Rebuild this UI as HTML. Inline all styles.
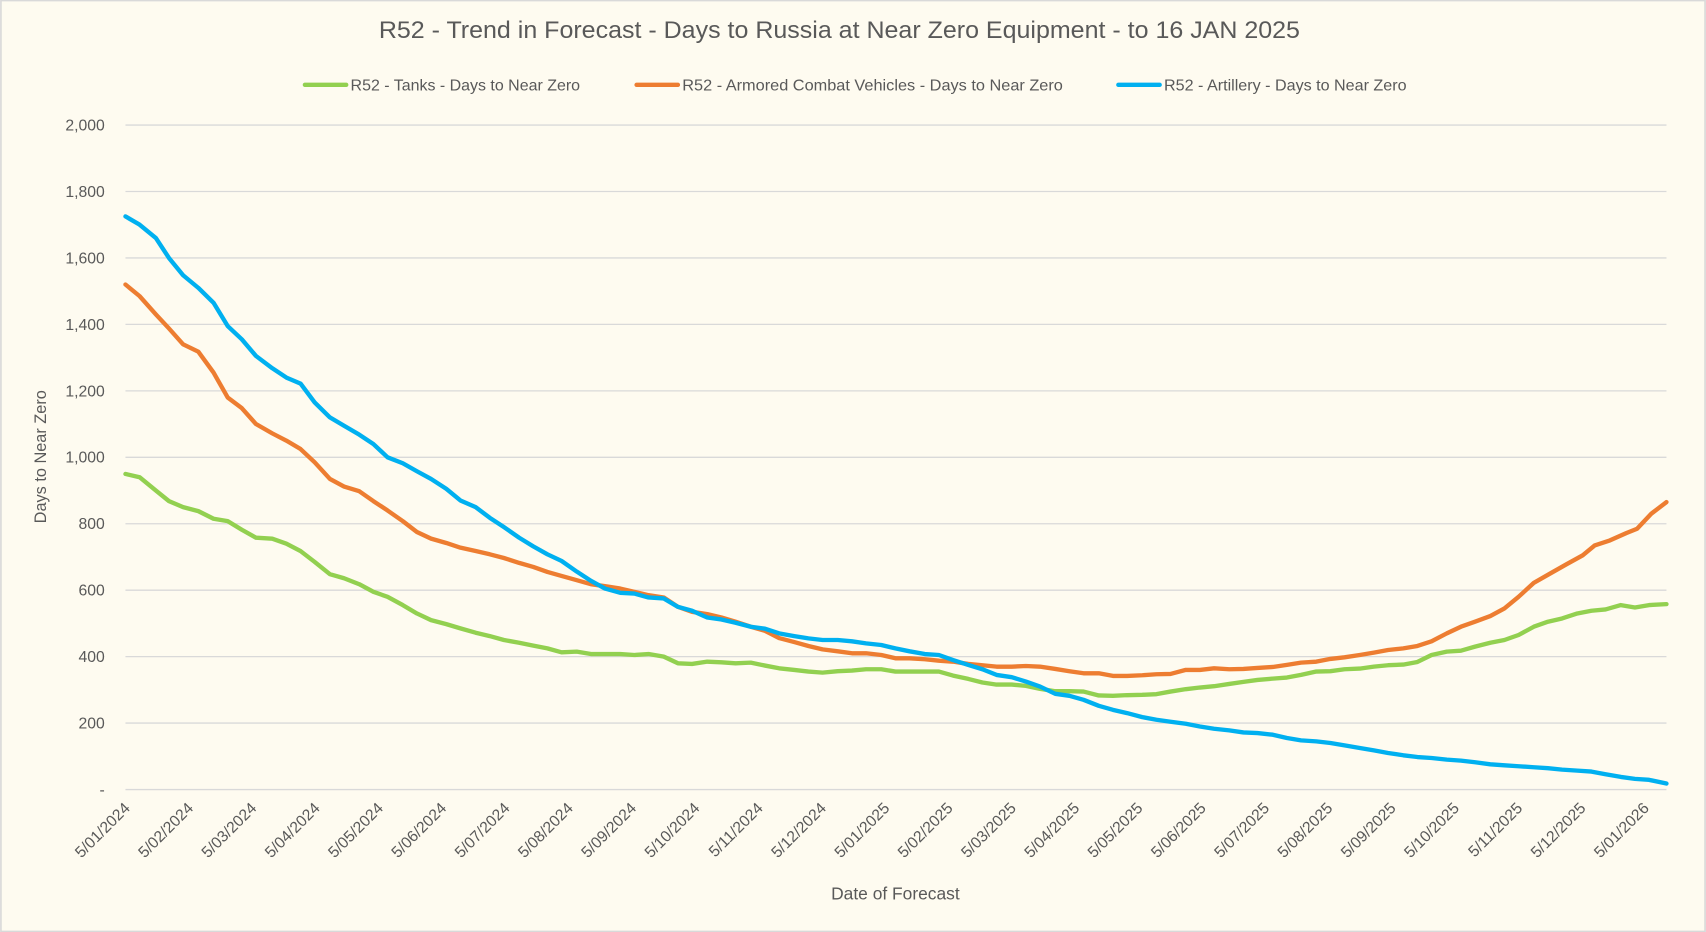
<!DOCTYPE html>
<html><head><meta charset="utf-8"><style>
html,body{margin:0;padding:0;background:#fefbf0;}
svg{display:block;}
text{font-family:"Liberation Sans",sans-serif;fill:#595959;}
</style></head><body>
<svg id="s" width="1706" height="932" viewBox="0 0 1568 857" xmlns="http://www.w3.org/2000/svg">
<rect x="0.5" y="0.5" width="1567" height="856" fill="#fefbf0" stroke="#d9d9d9" stroke-width="1.5"/>
<text x="348" y="35" font-size="22" textLength="847" lengthAdjust="spacingAndGlyphs">R52 - Trend in Forecast - Days to Russia at Near Zero Equipment - to 16 JAN 2025</text>
<line x1="280" y1="78" x2="318" y2="78" stroke="#92d050" stroke-width="4" stroke-linecap="round"/>
<text x="322" y="83" font-size="14.5" textLength="211" lengthAdjust="spacingAndGlyphs">R52 - Tanks - Days to Near Zero</text>
<line x1="585" y1="78" x2="623" y2="78" stroke="#ed7d31" stroke-width="4" stroke-linecap="round"/>
<text x="627" y="83" font-size="14.5" textLength="350" lengthAdjust="spacingAndGlyphs">R52 - Armored Combat Vehicles - Days to Near Zero</text>
<line x1="1028" y1="78" x2="1066" y2="78" stroke="#00b0f0" stroke-width="4" stroke-linecap="round"/>
<text x="1070" y="83" font-size="14.5" textLength="223" lengthAdjust="spacingAndGlyphs">R52 - Artillery - Days to Near Zero</text>
<g id="grid"></g>
<text transform="translate(42,420) rotate(-90)" text-anchor="middle" font-size="15">Days to Near Zero</text>
<text x="823" y="827" text-anchor="middle" font-size="16">Date of Forecast</text>
<g id="series"></g>
</svg>
<script>
var ns="http://www.w3.org/2000/svg",s=document.getElementById('s');
var g=document.getElementById('grid'),sr=document.getElementById('series');
function el(t,a,p,txt){var e=document.createElementNS(ns,t);for(var k in a)e.setAttribute(k,a[k]);if(txt)e.textContent=txt;p.appendChild(e);return e;}
function Y(v){return 726-v*0.3055;}
for(var v=0;v<=2000;v+=200){var y=Y(v);el('line',{x1:115,x2:1532,y1:y,y2:y,stroke:'#d9d9d9','stroke-width':1.2},g);
el('text',{x:96,y:y+5,'text-anchor':'end','font-size':14.5},g,v==0?'-':(v>=1000?Math.floor(v/1000)+','+String(v%1000).padStart(3,'0'):String(v)));}
var labs=[];for(var i=0;i<25;i++){var m=(i%12)+1,yr=2024+Math.floor(i/12);labs.push('5/'+(m<10?'0'+m:m)+'/'+yr);}
labs.forEach(function(l,i){var x=115+i*58.2;el('text',{transform:'translate('+(x+5)+',744) rotate(-45)','text-anchor':'end','font-size':14.5},g,l);});
function parse(str){return str.split(',').map(function(p){var a=p.split(':');return [+a[0],Y(+a[1])];});}
var blue="115:1725,128:1700,143:1660,155:1600,168:1548,182:1510,196:1465,209:1395,222:1355,235:1305,250:1268,263:1240,276:1222,289:1165,303:1120,316:1095,330:1068,343:1040,356:1000,370:982,383:958,396:935,410:905,423:870,437:850,450:818,463:790,477:758,490:732,503:708,516:688,530:656,543:628,556:605,570:592,583:590,596:578,610:575,623:550,636:538,650:518,663:512,676:502,690:490,703:484,716:470,730:462,743:455,756:450,770:450,783:446,796:440,810:435,823:425,836:416,850:408,863:405,876:390,890:375,903:362,916:345,930:338,943:325,956:310,970:288,983:282,996:270,1010:252,1023:240,1036:230,1050:218,1063:210,1076:204,1090:198,1103:190,1116:183,1130:178,1143:172,1156:170,1170:165,1183:155,1196:148,1210:145,1223:140,1236:133,1250:125,1263:118,1276:110,1290:103,1303:98,1316:95,1330:90,1343:87,1356:82,1370:76,1383:73,1396:70,1410:67,1423:64,1436:60,1450:57,1463:54,1476:46,1490:38,1503:32,1516:29,1532:18";
var orange="115:1520,128:1485,143:1430,155:1388,168:1340,182:1318,196:1255,209:1180,222:1148,235:1100,250:1072,263:1050,276:1025,289:985,303:935,316:912,330:898,343:868,356:840,370:808,383:775,396:755,410:742,423:728,437:718,450:708,463:697,477:682,490:670,503:655,516:643,530:630,543:618,556:612,570:605,583:595,596:585,610:578,623:550,636:535,650:528,663:518,676:505,690:490,703:478,716:456,730:444,743:432,756:422,770:416,783:410,796:410,810:405,823:395,836:395,850:392,863:388,876:385,890:378,903:374,916:370,930:370,943:372,956:370,970:363,983:356,996:350,1010:350,1023:342,1036:342,1050:344,1063:347,1076:348,1090:360,1103:360,1116:365,1130:362,1143:363,1156:366,1170:369,1183:375,1196:382,1210:385,1223:393,1236:398,1250:405,1263:412,1276:420,1290:425,1303:432,1316:446,1330:470,1343:490,1356:505,1370:522,1383:545,1396:580,1410:622,1425:650,1440:678,1455:705,1466:735,1480:750,1495:772,1505:785,1518:830,1532:865";
var green="115:950,128:940,143:900,155:868,168:850,182:838,196:815,209:808,222:782,235:758,250:755,263:740,276:718,289:685,303:648,316:636,330:618,343:595,356:580,370:555,383:530,396:510,410:498,423:485,437:472,450:462,463:450,477:442,490:433,503:425,516:413,530:415,543:408,556:408,570:408,583:405,596:408,610:400,623:380,636:378,650:385,663:383,676:380,690:382,703:373,716:365,730:360,743:355,756:352,770:356,783:358,796:362,810:362,823:355,836:355,850:355,863:355,876:343,890:333,903:322,916:316,930:316,943:312,956:303,970:296,983:296,996:295,1010:283,1023:282,1036:284,1050:285,1063:287,1076:295,1090:302,1103:307,1116:311,1130:318,1143:324,1156:330,1170:334,1183:337,1196:345,1210:355,1223:356,1236:362,1250:364,1263:370,1276:374,1290:376,1303:384,1316:405,1330:415,1343:418,1356:430,1370:442,1383:450,1396:465,1410:490,1423:505,1436:515,1450:530,1463:538,1476:542,1490:555,1503:548,1516:555,1532:558";
[[green,'#92d050'],[orange,'#ed7d31'],[blue,'#00b0f0']].forEach(function(d){
el('polyline',{points:parse(d[0]).map(function(p){return p[0]+','+p[1].toFixed(1);}).join(' '),fill:'none',stroke:d[1],'stroke-width':4,'stroke-linejoin':'round','stroke-linecap':'round'},sr);});
</script>
</body></html>
